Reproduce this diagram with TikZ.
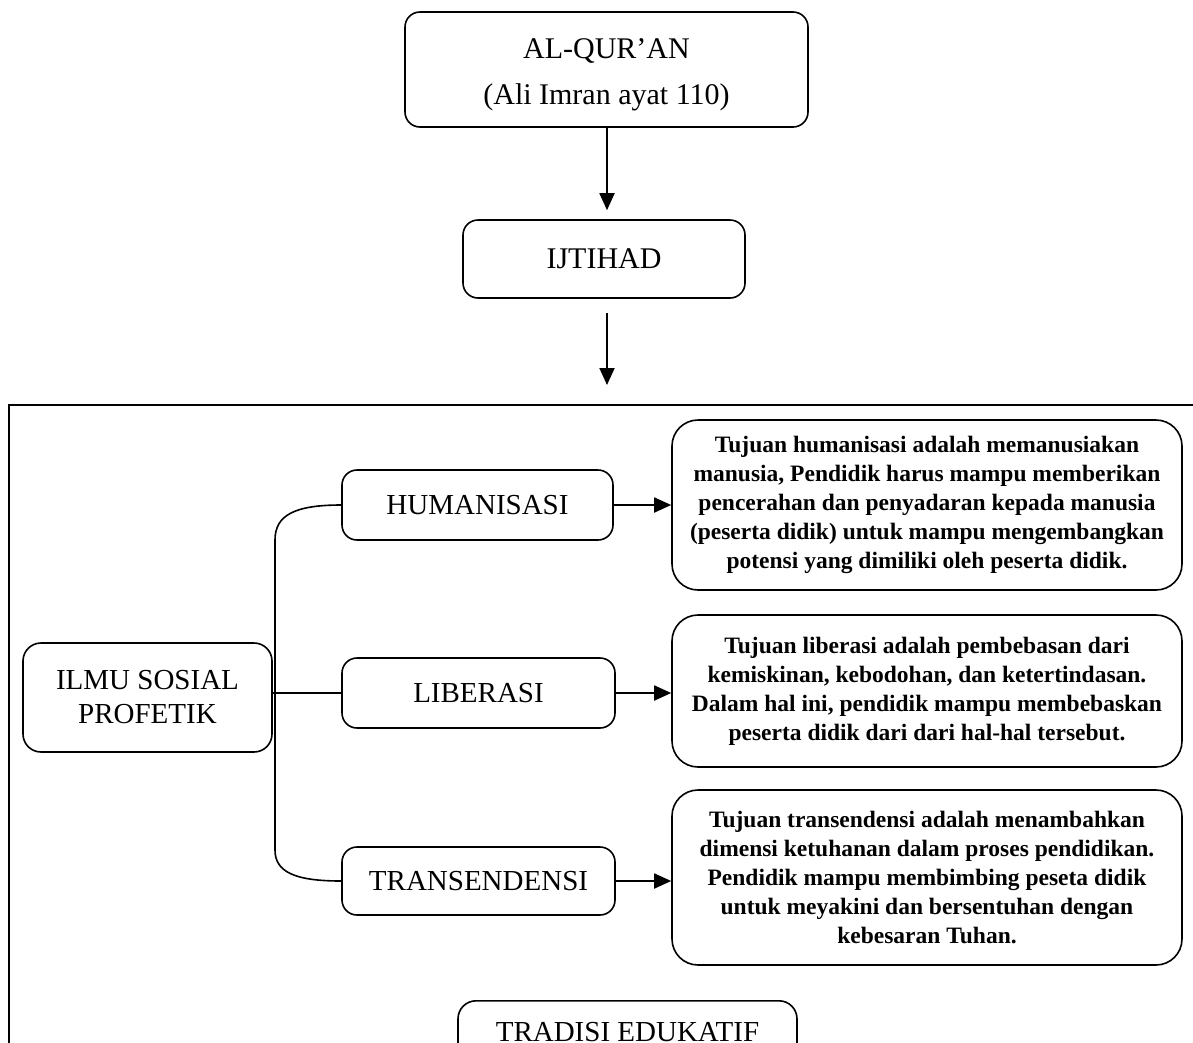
\documentclass[tikz,border=0pt]{standalone}
\usepackage{fontspec}
\setmainfont{Liberation Serif}
\usetikzlibrary{arrows.meta,calc}
\begin{document}
\begin{tikzpicture}[x=1pt,y=-1pt,
  box/.style={draw,line width=1.6pt,rounded corners=15pt,align=center,inner sep=0pt,
    font=\fontsize{30}{46}\selectfont},
  midbox/.style={box,font=\fontsize{29}{34}\selectfont},
  descbox/.style={draw,line width=1.6pt,rounded corners=26pt,align=center,inner sep=0pt,
    minimum width=510pt,font=\fontsize{23.5}{29}\selectfont\bfseries},
  arr/.style={line width=1.8pt,-{Triangle[length=17pt,width=15pt]}},
  conn/.style={line width=1.6pt}]
\useasboundingbox (0,0) rectangle (1193,1042);
\clip (0,0) rectangle (1193,1042);
\fill[white] (0,0) rectangle (1193,1042);

% outer frame
\draw[line width=1.6pt] (1215,405) -- (9,405) -- (9,1070);

\node[box,minimum width=403pt,minimum height=115pt] (quran) at (606.5,69.5)
  {\rule{0pt}{30pt}AL-QUR’AN\\(Ali Imran ayat 110)};
\node[box,minimum width=282pt,minimum height=78pt] (ijtihad) at (604,259) {IJTIHAD};
\coordinate (a2e) at (607,385);

\node[midbox,rounded corners=18pt,minimum width=249pt,minimum height=109pt] (ilmu) at (147.5,697.5)
  {ILMU SOSIAL\\PROFETIK};
\node[midbox,minimum width=271pt,minimum height=70pt] (hum) at (477.5,505) {HUMANISASI};
\node[midbox,minimum width=273pt,minimum height=70pt] (lib) at (478.5,693) {LIBERASI};
\node[midbox,minimum width=273pt,minimum height=68pt] (tra) at (478.5,881) {TRANSENDENSI};

\node[descbox,minimum height=170pt] (d1) at (927,505)
  {Tujuan humanisasi adalah memanusiakan\\manusia, Pendidik harus mampu memberikan\\pencerahan dan penyadaran kepada manusia\\(peserta didik) untuk mampu mengembangkan\\potensi yang dimiliki oleh peserta didik.};
\node[descbox,minimum height=152pt] (d2) at (927,691)
  {Tujuan liberasi adalah pembebasan dari\\kemiskinan, kebodohan, dan ketertindasan.\\Dalam hal ini, pendidik mampu membebaskan\\peserta didik dari dari hal-hal tersebut.};
\node[descbox,minimum height=175pt] (d3) at (927,877.5)
  {Tujuan transendensi adalah menambahkan\\dimensi ketuhanan dalam proses pendidikan.\\Pendidik mampu membimbing peseta didik\\untuk meyakini dan bersentuhan dengan\\kebesaran Tuhan.};

\node[box,rounded corners=18pt,anchor=north,minimum width=339pt,inner ysep=21pt,
  text height=20pt,text depth=40pt,font=\fontsize{29}{34}\selectfont] (trad) at (627.5,1000)
  {TRADISI EDUKATIF};

% connectors
\draw[arr,shorten >=9pt] (quran.south -| 607,0) -- (ijtihad.north -| 607,0);
\draw[arr] ([yshift=-14pt]ijtihad.south -| 607,0) -- (a2e);

\coordinate (t1) at (275,540);
\coordinate (t2) at (275,850);
\draw[conn] (hum.west) .. controls (295,505) and (275,515) .. (t1) -- (t2)
  .. controls (275,872) and (295,881) .. (tra.west);
\draw[conn] (ilmu.east |- lib.west) -- (lib.west);

\draw[arr] (hum.east) -- (d1.west |- hum.east);
\draw[arr] (lib.east) -- (d2.west |- lib.east);
\draw[arr] (tra.east) -- (d3.west |- tra.east);
\end{tikzpicture}
\end{document}
